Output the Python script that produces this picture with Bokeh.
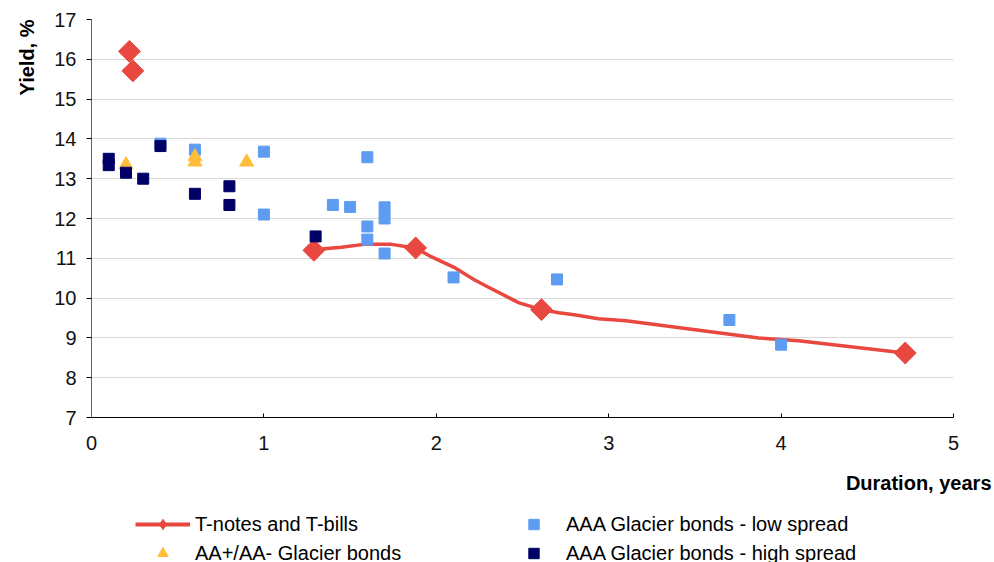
from bokeh.plotting import figure
from bokeh.models import Title, Legend, LegendItem, Range1d, FixedTicker
from bokeh.layouts import column
from bokeh.embed import file_html
from bokeh.resources import INLINE

# T-notes and T-bills (markers)
tnote_x = [0.22, 0.24, 1.29, 1.88, 2.61, 4.72]
tnote_y = [16.2, 15.71, 11.2, 11.26, 9.71, 8.62]
# smoothed curve through the T-notes
curve_x = [1.29, 1.35, 1.45, 1.58, 1.74, 1.88, 1.97, 2.10, 2.22, 2.30, 2.48, 2.61, 2.71, 2.80, 2.94, 3.10, 3.87, 4.10, 4.72]
curve_y = [11.2, 11.24, 11.28, 11.35, 11.35, 11.26, 11.04, 10.78, 10.46, 10.28, 9.88, 9.71, 9.63, 9.58, 9.48, 9.43, 9.0, 8.93, 8.62]

aa_x = [0.2, 0.6, 0.6, 0.9]
aa_y = [13.35, 13.55, 13.42, 13.42]

low_x = [0.4, 0.6, 1.0, 1.0, 1.4, 1.5, 1.6, 1.6, 1.6, 1.7, 1.7, 1.7, 2.1, 2.7, 3.7, 4.0]
low_y = [13.88, 13.73, 13.68, 12.1, 12.34, 12.29, 13.54, 11.8, 11.47, 12.28, 12.0, 11.12, 10.52, 10.47, 9.45, 8.83]

high_x = [0.1, 0.1, 0.2, 0.3, 0.4, 0.6, 0.8, 0.8, 1.3]
high_y = [13.5, 13.34, 13.15, 13.0, 13.82, 12.62, 12.81, 12.34, 11.55]

x_ticks = [0, 1, 2, 3, 4, 5]
y_ticks = [7, 8, 9, 10, 11, 12, 13, 14, 15, 16, 17]

series_labels = ["T-notes and T-bills", "AA+/AA- Glacier bonds",
                 "AAA Glacier bonds - low spread", "AAA Glacier bonds - high spread"]

RED = "#E8483F"
LIGHT = "#5E9CF2"
NAVY = "#000066"
ORANGE = "#FFBE3A"
FONT = "Liberation Sans"

p = figure(width=994, height=510, output_backend="svg", toolbar_location=None,
           x_range=Range1d(0, 5), y_range=Range1d(7, 17),
           min_border_left=91, min_border_right=41, min_border_top=19, min_border_bottom=92)
p.outline_line_color = None
p.background_fill_color = "white"

p.xaxis.ticker = FixedTicker(ticks=x_ticks)
p.yaxis.ticker = FixedTicker(ticks=y_ticks)
p.xgrid.grid_line_color = None
p.ygrid.grid_line_color = "#D9D9D9"
p.ygrid.grid_line_width = 1

for ax in (p.xaxis[0], p.yaxis[0]):
    ax.major_label_text_font = FONT
    ax.major_label_text_font_size = "20px"
    ax.major_label_text_color = "#111111"
    ax.minor_tick_line_color = None

p.xaxis.axis_line_color = "black"
p.xaxis.major_tick_in = 4
p.xaxis.major_tick_out = 0
p.xaxis.major_tick_line_color = "black"
p.xaxis.major_label_standoff = 18

p.yaxis.axis_line_color = "#666666"
p.yaxis.major_tick_in = 0
p.yaxis.major_tick_out = 5
p.yaxis.major_tick_line_color = "black"
p.yaxis.major_label_standoff = 10

line_r = p.line(curve_x, curve_y, line_color=RED, line_width=3.5)
tn_r = p.scatter(tnote_x, tnote_y, marker="square", angle=0.7854, size=15.5,
                 fill_color=RED, line_color=RED)
low_r = p.scatter(low_x, low_y, marker="square", size=11, fill_color=LIGHT, line_color=LIGHT)
aa_r = p.scatter(aa_x, aa_y, marker="triangle", size=14, fill_color=ORANGE, line_color=ORANGE)
high_r = p.scatter(high_x, high_y, marker="square", size=11, fill_color=NAVY, line_color=NAVY)

ytitle = Title(text="Yield, %", align="right", text_font=FONT, text_font_style="bold",
               text_font_size="20px", text_color="black", standoff=27)
p.add_layout(ytitle, "left")

xtitle = Title(text="Duration, years", align="right", text_font=FONT, text_font_style="bold",
               text_font_size="20px", text_color="black", standoff=34, offset=-38)
p.add_layout(xtitle, "below")

# legend strip below the chart; its sample glyphs hold one real point each,
# which lies outside this strip's ranges, so only the legend shows
lg = figure(width=994, height=52, output_backend="svg", toolbar_location=None,
            x_range=Range1d(0, 1), y_range=Range1d(0, 1),
            min_border=0, x_axis_location=None, y_axis_location=None)
lg.outline_line_color = None
lg.grid.visible = False
e1 = lg.line(x=curve_x[:2], y=curve_y[:2], line_color=RED, line_width=4)
e2 = lg.scatter(x=tnote_x[:1], y=tnote_y[:1], marker="diamond", size=13,
                fill_color=RED, line_color=RED)
e3 = lg.scatter(x=aa_x[:1], y=aa_y[:1], marker="triangle", size=12, fill_color=ORANGE, line_color=ORANGE)
e4 = lg.scatter(x=low_x[:1], y=low_y[:1], marker="square", size=10, fill_color=LIGHT, line_color=LIGHT)
e5 = lg.scatter(x=high_x[:1], y=high_y[:1], marker="square", size=10, fill_color=NAVY, line_color=NAVY)

legend = Legend(items=[
    LegendItem(label=series_labels[0], renderers=[e1, e2]),
    LegendItem(label=series_labels[1], renderers=[e3]),
    LegendItem(label=series_labels[2], renderers=[e4]),
    LegendItem(label=series_labels[3], renderers=[e5]),
], ncols=2, orientation="vertical", location=(44, -4))
legend.border_line_color = None
legend.background_fill_alpha = 0
legend.padding = 0
legend.margin = 0
legend.spacing = 3
legend.glyph_width = 55
legend.glyph_height = 26
legend.label_height = 26
legend.label_width = 308
legend.label_standoff = 5
legend.label_text_font = FONT
legend.label_text_font_size = "20px"
legend.label_text_color = "black"
lg.add_layout(legend, "center")

layout = column(p, lg, spacing=0)
open("out.html", "w").write(file_html(layout, INLINE))
